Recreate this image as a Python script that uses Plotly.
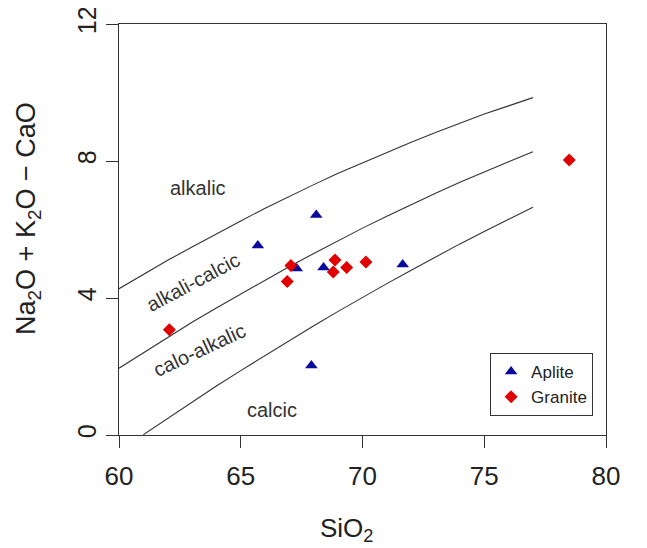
import plotly.graph_objects as go

# Boundary curves (SiO2 vs MALI)
curve_sio2 = [60, 61, 62, 63, 64, 65, 66, 67, 68, 69, 70, 71, 72, 73, 74, 75, 76, 77]
alkalic_bound = [4.27, 4.69, 5.10, 5.49, 5.88, 6.25, 6.62, 6.97, 7.31, 7.64, 7.95, 8.26, 8.55, 8.83, 9.11, 9.37, 9.61, 9.85]
alkcalc_bound = [1.95, 2.40, 2.85, 3.29, 3.71, 4.12, 4.53, 4.92, 5.30, 5.68, 6.04, 6.39, 6.73, 7.06, 7.38, 7.69, 7.98, 8.27]
calc_sio2 = [61, 62, 63, 64, 65, 66, 67, 68, 69, 70, 71, 72, 73, 74, 75, 76, 77]
calcalk_bound = [0.01, 0.49, 0.96, 1.43, 1.88, 2.32, 2.76, 3.19, 3.61, 4.02, 4.42, 4.81, 5.20, 5.58, 5.94, 6.30, 6.65]

# Samples
aplite_sio2 = [68.1, 65.7, 67.3, 68.4, 71.65, 67.9]
aplite_mali = [6.42, 5.53, 4.86, 4.89, 4.98, 2.03]
granite_sio2 = [67.06, 66.91, 68.87, 68.80, 69.35, 70.14, 62.07, 78.49]
granite_mali = [4.95, 4.48, 5.11, 4.76, 4.89, 5.05, 3.07, 8.03]

# Field labels
field_names = ["alkalic", "alkali-calcic", "calo-alkalic", "calcic"]
field_x = [63.25, 63.05, 63.3, 66.3]
field_y = [7.2, 4.47, 2.48, 0.73]
field_angle = [0, -28, -25, 0]

FONT = "Liberation Sans, Arial, sans-serif"
LINE = "#333333"

fig = go.Figure()
for xs, ys in [(curve_sio2, alkalic_bound), (curve_sio2, alkcalc_bound), (calc_sio2, calcalk_bound)]:
    fig.add_trace(go.Scatter(x=xs, y=ys, mode="lines", line=dict(color=LINE, width=1.1),
                             showlegend=False, hoverinfo="skip"))

fig.add_trace(go.Scatter(x=aplite_sio2, y=aplite_mali, mode="markers", name="Aplite",
                         marker=dict(symbol="triangle-up", size=11, color="#0a0a9e")))
fig.add_trace(go.Scatter(x=granite_sio2, y=granite_mali, mode="markers", name="Granite",
                         marker=dict(symbol="diamond", size=10, color="#e00000")))

for name, x, y, a in zip(field_names, field_x, field_y, field_angle):
    fig.add_annotation(x=x, y=y, text=name, showarrow=False, textangle=a,
                       font=dict(family=FONT, size=20, color="#333333"))

fig.add_annotation(xref="paper", yref="paper", x=0.468, y=-0.231, xanchor="center", yanchor="middle",
                   text="SiO<sub>2</sub>",
                   showarrow=False, font=dict(family=FONT, size=26, color="#222222"))
fig.add_annotation(xref="paper", yref="paper", x=-0.187, y=0.528, xanchor="center", yanchor="middle",
                   text="Na<sub>2</sub>O + K<sub>2</sub>O \u2212 CaO", textangle=-90,
                   showarrow=False, font=dict(family=FONT, size=27, color="#222222"))

axis_common = dict(showline=True, linecolor=LINE, linewidth=1, mirror=True,
                   ticks="outside", ticklen=12, tickcolor=LINE, tickwidth=1,
                   showgrid=False, zeroline=False, ticklabeloverflow="allow",
                   automargin=False)

fig.update_xaxes(range=[60, 80], tickvals=[60, 65, 70, 75, 80], ticklabelstandoff=6,
                 tickfont=dict(family=FONT, size=26, color="#222222"), **axis_common)
fig.update_yaxes(range=[0, 12], tickvals=[0, 4, 8, 12], tickangle=-90,
                 tickfont=dict(family=FONT, size=25, color="#222222"), **axis_common)

fig.update_layout(
    width=647, height=548,
    margin=dict(l=111, r=49, t=16, b=121, autoexpand=False),
    plot_bgcolor="white", paper_bgcolor="white",
    showlegend=True,
    legend=dict(x=0.762, y=0.1995, xanchor="left", yanchor="top",
                bordercolor=LINE, borderwidth=1, bgcolor="white",
                font=dict(family=FONT, size=17, color="#222222"),
                itemwidth=30, tracegroupgap=0),
)

fig.write_html("out.html")
